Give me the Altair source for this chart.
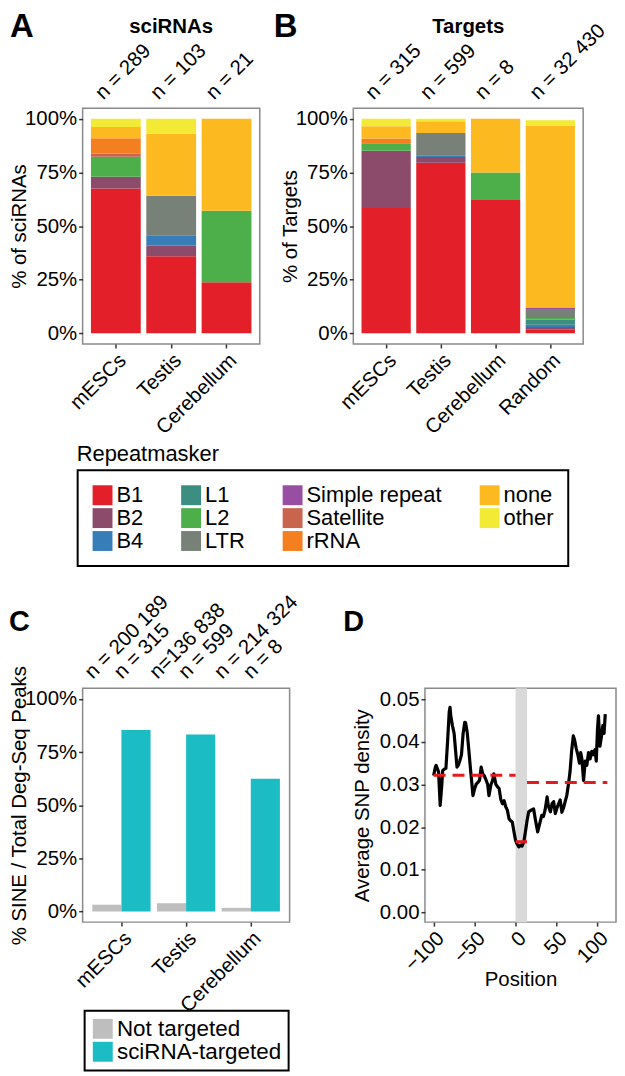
import altair as alt
import pandas as pd

FONT = "Liberation Sans"
AXIS_FS = 20.5

# ---------------- shared repeat classes ----------------
repeat_classes = ["B1", "B2", "B4", "L1", "L2", "LTR", "Simple repeat",
                  "Satellite", "rRNA", "none", "other"]
repeat_colors = ["#E3202A", "#8C4B6B", "#377EB8", "#3B8E80", "#4DAF4A",
                 "#778178", "#984EA3", "#C9654F", "#F47F20", "#FDB920", "#F2EA35"]
legend_layout_order = ["B1", "L1", "Simple repeat", "none",
                       "B2", "L2", "Satellite", "other",
                       "B4", "LTR", "rRNA"]
panel_letters = ["A", "B", "C", "D"]
panel_titles = ["sciRNAs", "Targets"]

# ---------------- Panel A: sciRNAs ----------------
sci_tissues = ["mESCs", "Testis", "Cerebellum"]
sci_n_labels = ["n = 289", "n = 103", "n = 21"]
#              B1    B2   B4   L1   L2   LTR  SR   Sat  rRNA none  other
sci_mescs = [67.5, 5.5, 0.0, 0.0, 9.3, 0.0, 0.0, 1.4, 7.3, 5.2, 3.8]
sci_testis = [35.9, 4.9, 4.9, 0.0, 0.0, 18.4, 0.0, 0.0, 0.0, 29.1, 6.8]
sci_cerebellum = [23.8, 0.0, 0.0, 0.0, 33.3, 0.0, 0.0, 0.0, 0.0, 42.9, 0.0]

# ---------------- Panel B: Targets ----------------
tgt_tissues = ["mESCs", "Testis", "Cerebellum", "Random"]
tgt_n_labels = ["n = 315", "n = 599", "n = 8", "n = 32 430"]
tgt_mescs = [58.4, 26.7, 0.0, 0.0, 3.5, 0.0, 0.0, 0.0, 2.2, 5.7, 3.5]
tgt_testis = [79.5, 2.7, 0.8, 0.0, 0.0, 10.4, 0.0, 0.0, 0.0, 5.5, 1.2]
tgt_cerebellum = [62.5, 0.0, 0.0, 0.0, 12.5, 0.0, 0.0, 0.0, 0.0, 25.0, 0.0]
tgt_random = [1.6, 1.3, 1.1, 2.3, 0.8, 4.2, 0.7, 0.0, 0.0, 84.7, 2.6]

# ---------------- Panel C: Deg-Seq peaks ----------------
deg_tissues = ["mESCs", "Testis", "Cerebellum"]
deg_groups = ["Not targeted", "sciRNA-targeted"]
deg_group_colors = ["#BEBEBE", "#1BBCC4"]
deg_not_targeted = [3.2, 3.9, 1.7]
deg_targeted = [85.4, 83.3, 62.5]
deg_n_not = ["n = 200 189", "n=136 838", "n = 214 324"]
deg_n_tgt = ["n = 315", "n = 599", "n = 8"]

# ---------------- Panel D: SNP density ----------------
snp_position = [-100, -98, -97, -95, -94, -92, -90, -89, -87, -85, -83, -81, -80, -79,
                -77, -75, -73, -71.5, -70, -68, -66, -64, -62, -61, -59, -57, -55, -53,
                -52, -50, -48, -46, -44, -42, -40, -38, -36.5, -34, -32.5, -30, -28,
                -26.5, -24, -22, -20, -18, -16, -14, -12, -10, -8, -6, -4, -2, 0, 2, 4,
                6, 8, 10, 12, 14, 16, 19, 22, 24, 27, 29, 32, 34, 36, 38.5, 40, 42.5,
                44.5, 46.5, 48.5, 50.5, 52.5, 54.5, 56.5, 58.5, 60.5, 62.5, 64.5, 66.5,
                68.5, 70.5, 72, 74, 76, 78, 79.5, 81, 83, 85, 87, 89, 91, 93, 95, 97,
                98.5, 100, 101.2, 103, 105, 106.5, 108, 109.5]
snp_density = [0.0321, 0.0340, 0.0345, 0.0335, 0.0330, 0.0251, 0.0300, 0.0333, 0.0336,
               0.0338, 0.0400, 0.0470, 0.0481, 0.0460, 0.0438, 0.0420, 0.0375, 0.0341,
               0.0345, 0.0356, 0.0370, 0.0420, 0.0446, 0.0445, 0.0422, 0.0380, 0.0336,
               0.0295, 0.0274, 0.0290, 0.0301, 0.0305, 0.0310, 0.0341, 0.0325, 0.0320,
               0.0313, 0.0300, 0.0274, 0.0300, 0.0310, 0.0325, 0.0300, 0.0295, 0.0290,
               0.0265, 0.0255, 0.0262, 0.0248, 0.0240, 0.0220, 0.0215, 0.0212, 0.0190,
               0.0169, 0.0160, 0.0154, 0.0158, 0.0156, 0.0165, 0.0189, 0.0215, 0.0236,
               0.0240, 0.0243, 0.0220, 0.0189, 0.0205, 0.0228, 0.0225, 0.0240, 0.0271,
               0.0250, 0.0236, 0.0255, 0.0260, 0.0232, 0.0245, 0.0255, 0.0264, 0.0235,
               0.0245, 0.0260, 0.0274, 0.0300, 0.0330, 0.0380, 0.0414, 0.0405, 0.0385,
               0.0370, 0.0350, 0.0375, 0.0360, 0.0309, 0.0355, 0.0345, 0.0375, 0.0360,
               0.0378, 0.0370, 0.0382, 0.0355, 0.0430, 0.0461, 0.0390, 0.0415, 0.0438,
               0.0420, 0.0465]
band_start = [0]
band_end = [14]
mean_start = [-100, 0, 14]
mean_end = [0, 14, 112]
mean_density = [0.0322, 0.0166, 0.0305]

# ---------------- helpers ----------------
color_map = dict(zip(repeat_classes, repeat_colors))
legend_range = [color_map[c] for c in legend_layout_order]


def composition_frame(tissues, rows):
    recs = []
    for t, vals in zip(tissues, rows):
        for rank, (cls, v) in enumerate(zip(repeat_classes, vals)):
            if v > 0:
                recs.append({"tissue": t, "repeat": cls, "pct": v, "rank": rank})
    return pd.DataFrame(recs)


def text_layer(value, x, y, size, weight="normal", align="left"):
    return alt.Chart(pd.DataFrame({"t": [value]})).mark_text(
        font=FONT, fontSize=size, fontWeight=weight, align=align, baseline="top",
        color="black").encode(x=alt.value(x), y=alt.value(y), text="t:N")


pct_axis_vals = [0, 25, 50, 75, 100]


def stacked_panel(df, tissues, n_labels, width, title, ytitle, letter, letter_x,
                  legend, extra=None):
    xenc = alt.X("tissue:N", sort=tissues,
                 scale=alt.Scale(paddingInner=0.1, paddingOuter=0.15),
                 axis=alt.Axis(title=None, labelAngle=315, labelAlign="right",
                               labelBaseline="top"))
    bars = alt.Chart(df).mark_bar().encode(
        x=xenc,
        y=alt.Y("pct:Q", stack="zero",
                scale=alt.Scale(domain=[-5, 105], nice=False, zero=False),
                axis=alt.Axis(values=pct_axis_vals, labelExpr="datum.value + '%'",
                              title=ytitle)),
        color=alt.Color("repeat:N",
                        scale=alt.Scale(domain=legend_layout_order, range=legend_range),
                        legend=legend),
        order=alt.Order("rank:Q", sort="ascending"),
    )
    ndf = pd.DataFrame({"tissue": tissues, "label": n_labels})
    ntext = alt.Chart(ndf).mark_text(
        font=FONT, fontSize=AXIS_FS, angle=315, align="left", baseline="middle",
        dx=-3.5, dy=-20.5, color="black").encode(
        x=xenc, y=alt.value(0), text="label:N")
    layers = [bars, ntext,
              text_layer(title, width / 2, -92, AXIS_FS, "bold", "center"),
              text_layer(letter, letter_x, -97, 33, "bold")]
    if extra is not None:
        layers.append(extra)
    return alt.layer(*layers).properties(width=width, height=237)


sci_df = composition_frame(sci_tissues, [sci_mescs, sci_testis, sci_cerebellum])
tgt_df = composition_frame(tgt_tissues, [tgt_mescs, tgt_testis, tgt_cerebellum, tgt_random])

legend_a = alt.Legend(orient="none", legendX=-5, legendY=364, columns=4, title=None,
                      direction="horizontal")

panel_a = stacked_panel(sci_df, sci_tissues, sci_n_labels, 178, panel_titles[0],
                        "% of sciRNAs", panel_letters[0], -73, legend_a,
                        extra=text_layer("Repeatmasker", -6, 338, 22))
panel_b = stacked_panel(tgt_df, tgt_tissues, tgt_n_labels, 231, panel_titles[1],
                        "% of Targets", panel_letters[1], -80, None)

# ---- panel C ----
deg_df = pd.DataFrame({
    "tissue": deg_tissues * 2,
    "group": [deg_groups[0]] * 3 + [deg_groups[1]] * 3,
    "pct": deg_not_targeted + deg_targeted,
    "label": deg_n_not + deg_n_tgt,
})
xenc_c = alt.X("tissue:N", sort=deg_tissues,
               scale=alt.Scale(paddingInner=0.1, paddingOuter=0.15),
               axis=alt.Axis(title=None, labelAngle=315, labelAlign="right",
                             labelBaseline="top"))
xoff_c = alt.XOffset("group:N", sort=deg_groups)
bars_c = alt.Chart(deg_df).mark_bar().encode(
    x=xenc_c, xOffset=xoff_c,
    y=alt.Y("pct:Q", scale=alt.Scale(domain=[-5, 105], nice=False, zero=False),
            axis=alt.Axis(values=pct_axis_vals, labelExpr="datum.value + '%'",
                          title="% SINE / Total Deg-Seq Peaks")),
    color=alt.Color("group:N", scale=alt.Scale(domain=deg_groups, range=deg_group_colors),
                    legend=alt.Legend(orient="none", legendX=2, legendY=324, title=None,
                                      direction="vertical", padding=7, rowPadding=0,
                                      labelFontSize=22.5)),
)
ntext_c = alt.Chart(deg_df).mark_text(
    font=FONT, fontSize=AXIS_FS, angle=315, align="left", baseline="middle",
    dx=-4, dy=-22, color="black").encode(
    x=xenc_c, xOffset=xoff_c, y=alt.value(0), text="label:N")
panel_c = alt.layer(bars_c, ntext_c,
                    text_layer(panel_letters[2], -74, -81, 29, "bold")
                    ).properties(width=208, height=235)

# ---- panel D ----
snp_df = pd.DataFrame({"position": snp_position, "density": snp_density})
band_df = pd.DataFrame({"start": band_start, "end": band_end})
mean_df = pd.DataFrame({"start": mean_start, "end": mean_end, "density": mean_density})
xs = alt.Scale(domain=[-110.6, 122.6], nice=False, zero=False)
ys = alt.Scale(domain=[-0.00226, 0.05258], nice=False, zero=False)
xaxis_d = alt.Axis(values=[-100, -50, 0, 50, 100], format="d", labelAngle=315,
                   labelAlign="right", labelBaseline="top", title="Position")
yaxis_d = alt.Axis(values=[0, 0.01, 0.02, 0.03, 0.04, 0.05], format=".2f",
                   title="Average SNP density", titlePadding=7)
band = alt.Chart(band_df).mark_rect(color="#D9D9D9").encode(
    x=alt.X("start:Q", scale=xs, axis=xaxis_d), x2="end:Q",
    y=alt.value(0), y2=alt.value(235))
line = alt.Chart(snp_df).mark_line(color="black", strokeWidth=3.2, strokeJoin="round").encode(
    x=alt.X("position:Q", scale=xs, axis=xaxis_d),
    y=alt.Y("density:Q", scale=ys, axis=yaxis_d))
means = alt.Chart(mean_df).mark_rule(color="#E41A1C", strokeWidth=3, strokeDash=[12, 7]).encode(
    x=alt.X("start:Q", scale=xs, axis=xaxis_d), x2="end:Q",
    y=alt.Y("density:Q", scale=ys, axis=yaxis_d))
panel_d = alt.layer(band, line, means,
                    text_layer(panel_letters[3], -82, -81, 29, "bold")
                    ).properties(width=192, height=235)

row1 = alt.hconcat(panel_a, panel_b, spacing=94, bounds="flush").resolve_scale(color="independent")
row2 = alt.hconcat(panel_c, panel_d, spacing=136, bounds="flush").resolve_scale(color="independent")

chart = alt.vconcat(row1, row2, spacing=23).resolve_scale(color="independent").properties(
    padding=0
).configure_view(
    stroke="#8A8A8A", strokeWidth=1.5
).configure_axis(
    labelFont=FONT, titleFont=FONT, labelFontSize=AXIS_FS, titleFontSize=AXIS_FS,
    labelColor="black", titleColor="black", titleFontWeight="normal",
    domain=False, grid=False, tickColor="#333333", tickSize=4, tickWidth=1.5,
    labelPadding=2, titlePadding=-5
).configure_legend(
    labelFont=FONT, labelFontSize=22, labelColor="black", symbolType="square",
    symbolSize=400, symbolStrokeWidth=0, strokeColor="black", strokeWidth=2,
    padding=14, rowPadding=1, columnPadding=37, labelOffset=3, labelLimit=400
)

chart.save("out.html", embed_options={"renderer": "svg", "actions": False})
